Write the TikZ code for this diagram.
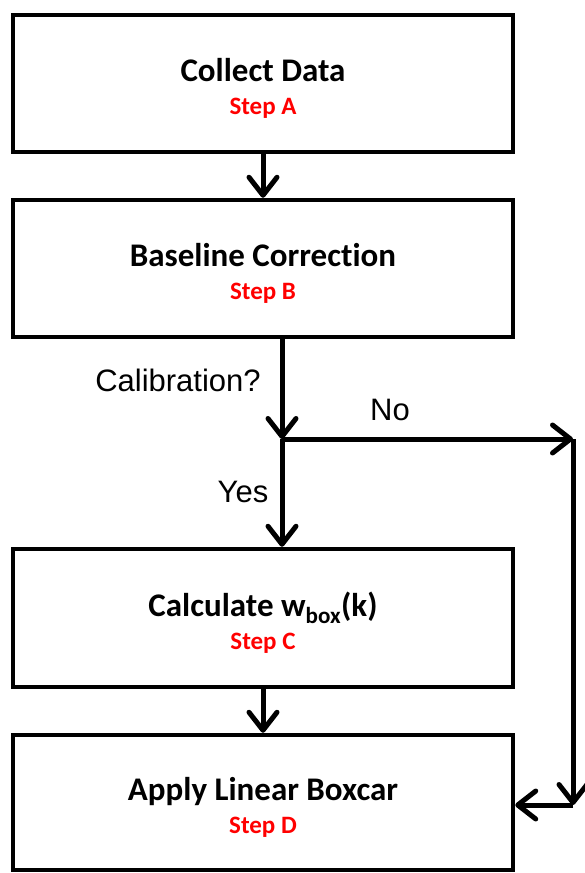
\documentclass[tikz,border=0pt]{standalone}
\usepackage{fontspec}
\setmainfont{Carlito}[Ligatures=CommonOff]
\newfontfamily\labfont{Liberation Sans}
\usetikzlibrary{arrows.meta,calc}
\definecolor{stepred}{RGB}{255,0,0}
\begin{document}
\begin{tikzpicture}[x=1pt,y=-1pt,
  box/.style={draw=black, line width=4.5pt, fill=white, minimum width=500pt, inner sep=0pt, align=center, font=\fontsize{25}{33}\selectfont},
  flow/.style={line width=5pt, -{Straight Barb[length=18pt,width=28pt,round]}},
  lab/.style={font=\labfont\fontsize{31}{36}\selectfont, inner sep=0pt},
]
\useasboundingbox (0,0) rectangle (585,873);
\newcommand{\mt}[1]{{\bfseries\fontsize{33}{33}\selectfont\rule{0pt}{33pt}#1}}
\newcommand{\st}[1]{{\color{stepred}\bfseries\fontsize{25}{33}\selectfont #1}}
\node[box, minimum height=137pt] (A) at (263,83.5) {\mt{Collect Data}\\\st{Step A}};
\node[box, minimum height=137pt] (B) at (263,268.5) {\mt{Baseline Correction}\\\st{Step B}};
\node[box, minimum height=138pt] (C) at (263,618) {\mt{Calculate w\textsubscript{box}(k)}\\\st{Step C}};
\node[box, minimum height=135pt] (D) at (263,802.5) {\mt{Apply Linear Boxcar}\\\st{Step D}};
\coordinate (J) at (282,439);
\coordinate (R1) at (573,439);
\coordinate (R2) at (573,805);
\draw[flow] (A.south) -- (B.north);
\draw[flow] (B.south -| J) -- (J);
\draw[flow] (J) -- (J |- C.north);
\draw[flow] (J) -- (R1);
\draw[flow] (R1) -- (R2);
\draw[flow] (R2) -- (R2 -| D.east);
\draw[flow] (C.south) -- (D.north);
\node[lab] (cal) at (178,380) {Calibration?};
\node[lab] (no) at (390,410) {No};
\node[lab] (yes) at (243,492) {Yes};
\end{tikzpicture}
\end{document}
